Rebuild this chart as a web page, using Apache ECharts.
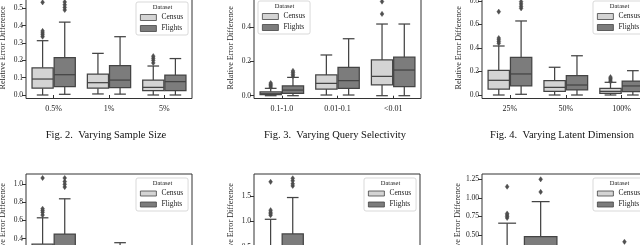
<!DOCTYPE html>
<html><head><meta charset="utf-8">
<script src="https://cdn.jsdelivr.net/npm/echarts@6/dist/echarts.min.js"></script>
<style>html,body{margin:0;padding:0;background:#fff}#c{width:640px;height:245px}</style>
</head><body><div id="c"></div>
<script>
// ---------- DATA (box = [lower whisker, Q1, median, Q3, upper whisker]) ----------
const seriesNames = ['Census', 'Flights'];
const legendTitle = 'Dataset';
const yAxisTitle = 'Relative Error Difference';
const captions = ['Fig. 2.  Varying Sample Size', 'Fig. 3.  Varying Query Selectivity', 'Fig. 4.  Varying Latent Dimension'];

// Fig. 2 (top-left)
const fig2Categories = ['0.5%', '1%', '5%'];
const fig2Census = [[0, 0.039, 0.092, 0.157, 0.313], [0.006, 0.039, 0.071, 0.121, 0.24], [0, 0.025, 0.044, 0.086, 0.167]];
const fig2Flights = [[0.004, 0.048, 0.117, 0.215, 0.42], [0.005, 0.042, 0.086, 0.169, 0.336], [0, 0.025, 0.077, 0.115, 0.21]];
const fig2CensusOutliers = [[0.336, 0.347, 0.358, 0.369, 0.534], [], [0.185, 0.2, 0.212, 0.224]];
const fig2FlightsOutliers = [[0.49, 0.505, 0.52, 0.536], [], []];
const fig2YTicks = [0, 0.1, 0.2, 0.3, 0.4, 0.5];

// Fig. 3 (top-middle)
const fig3Categories = ['0.1-1.0', '0.01-0.1', '<0.01'];
const fig3Census = [[0, 0.006, 0.014, 0.023, 0.043], [0.004, 0.039, 0.072, 0.121, 0.238], [0, 0.063, 0.113, 0.209, 0.419]];
const fig3Flights = [[0, 0.014, 0.033, 0.057, 0.107], [0.004, 0.043, 0.088, 0.166, 0.333], [0, 0.053, 0.15, 0.225, 0.419]];
const fig3CensusOutliers = [[0.05, 0.058, 0.066, 0.074], [], [0.478, 0.55]];
const fig3FlightsOutliers = [[0.115, 0.125, 0.135, 0.145], [], []];
const fig3YTicks = [0, 0.2, 0.4];

// Fig. 4 (top-right)
const fig4Categories = ['25%', '50%', '100%'];
const fig4Census = [[0, 0.051, 0.125, 0.21, 0.417], [0, 0.031, 0.065, 0.122, 0.236], [0, 0.014, 0.031, 0.057, 0.108]];
const fig4Flights = [[0.006, 0.077, 0.179, 0.321, 0.63], [0, 0.043, 0.085, 0.164, 0.334], [0, 0.028, 0.077, 0.119, 0.207]];
const fig4CensusOutliers = [[0.44, 0.455, 0.47, 0.485, 0.709], [], [0.115, 0.128, 0.14, 0.152]];
const fig4FlightsOutliers = [[0.738, 0.755, 0.775, 0.794], [], []];
const fig4YTicks = [0, 0.2, 0.4, 0.6, 0.8];

// Lower row (partly cut off at the bottom of the page)
const fig5Categories = ['a', 'b', 'c'];
const fig5Census = [[0, 0.05, 0.12, 0.34, 0.63], [0, 0.03, 0.07, 0.14, 0.28], [0, 0.02, 0.04, 0.08, 0.16]];
const fig5Flights = [[0.005, 0.08, 0.18, 0.45, 0.84], [0, 0.04, 0.09, 0.17, 0.355], [0, 0.03, 0.07, 0.12, 0.22]];
const fig5CensusOutliers = [[0.66, 0.69, 0.71, 0.73, 1.07], [], []];
const fig5FlightsOutliers = [[0.97, 1.0, 1.03, 1.07], [], []];
const fig5YTicks = [0, 0.2, 0.4, 0.6, 0.8, 1.0];

const fig6Categories = ['a', 'b', 'c'];
const fig6Census = [[0, 0.1, 0.25, 0.5, 1.04], [0, 0.05, 0.12, 0.25, 0.45], [0, 0.03, 0.07, 0.14, 0.3]];
const fig6Flights = [[0, 0.15, 0.35, 0.75, 1.47], [0, 0.06, 0.15, 0.3, 0.5], [0, 0.04, 0.1, 0.2, 0.4]];
const fig6CensusOutliers = [[1.12, 1.15, 1.18, 1.22, 1.78], [], []];
const fig6FlightsOutliers = [[1.7, 1.74, 1.8, 1.85], [], []];
const fig6YTicks = [0, 0.5, 1.0, 1.5];

const fig7Categories = ['a', 'b'];
const fig7Census = [[0, 0.08, 0.18, 0.33, 0.66], [0, 0.03, 0.07, 0.13, 0.25]];
const fig7Flights = [[0, 0.1, 0.22, 0.48, 0.95], [0, 0.04, 0.09, 0.18, 0.35]];
const fig7CensusOutliers = [[0.73, 0.75, 0.77, 0.79, 1.15], []];
const fig7FlightsOutliers = [[1.08, 1.25], [0.41]];
const fig7YTicks = [0, 0.25, 0.5, 0.75, 1.0, 1.25];

// ---------- STYLE / LAYOUT ----------
const SERIF = "'Liberation Serif','DejaVu Serif',serif";
const LINE = '#444444';
const FILLS = ['#d4d4d4', '#7c7c7c'];
const FRAME = '#333333';

const panels = [
  {cats: fig2Categories, boxes: [fig2Census, fig2Flights], outs: [fig2CensusOutliers, fig2FlightsOutliers], ticks: fig2YTicks, dec: 1,
   left: 26, width: 166, top: -3, min: -0.0202, max: 0.5648, legend: [136, 2], showX: true},
  {cats: fig3Categories, boxes: [fig3Census, fig3Flights], outs: [fig3CensusOutliers, fig3FlightsOutliers], ticks: fig3YTicks, dec: 1,
   left: 254, width: 167, top: -3, min: -0.0164, max: 0.577, legend: [258, 1], showX: true},
  {cats: fig4Categories, boxes: [fig4Census, fig4Flights], outs: [fig4CensusOutliers, fig4FlightsOutliers], ticks: fig4YTicks, dec: 1,
   left: 482, width: 167.6, top: -3, min: -0.0298, max: 0.834, legend: [593, 1], showX: true},
  {cats: fig5Categories, boxes: [fig5Census, fig5Flights], outs: [fig5CensusOutliers, fig5FlightsOutliers], ticks: fig5YTicks, dec: 1,
   left: 26, width: 166, top: 174, min: -0.0076, max: 1.114, legend: [136, 178], showX: false},
  {cats: fig6Categories, boxes: [fig6Census, fig6Flights], outs: [fig6CensusOutliers, fig6FlightsOutliers], ticks: fig6YTicks, dec: 1,
   left: 254, width: 166, top: 174, min: -0.071, max: 1.935, legend: [364, 178], showX: false},
  {cats: fig7Categories, boxes: [fig7Census, fig7Flights], outs: [fig7CensusOutliers, fig7FlightsOutliers], ticks: fig7YTicks, dec: 2,
   left: 482, width: 167.6, top: 174, min: -0.043, max: 1.321, legend: [593, 178], showX: false}
];
const GRID_H = 101.5;

function boxRenderer(hue) {
  return function (params, api) {
    const cat = api.value(0);
    const band = api.size([1, 0])[0];
    const cx = api.coord([cat, 0])[0] + (hue - 0.5) * 0.4 * band;
    const w = 0.4 * band - 1;
    const cap = w * 0.55;
    const y = v => api.coord([cat, v])[1];
    const lo = y(api.value(1)), q1 = y(api.value(2)), md = y(api.value(3)), q3 = y(api.value(4)), hi = y(api.value(5));
    const ls = {stroke: LINE, lineWidth: 1.25};
    return {type: 'group', children: [
      {type: 'line', shape: {x1: cx, y1: q3, x2: cx, y2: hi}, style: ls},
      {type: 'line', shape: {x1: cx, y1: q1, x2: cx, y2: lo}, style: ls},
      {type: 'line', shape: {x1: cx - cap / 2, y1: hi, x2: cx + cap / 2, y2: hi}, style: ls},
      {type: 'line', shape: {x1: cx - cap / 2, y1: lo, x2: cx + cap / 2, y2: lo}, style: ls},
      {type: 'rect', shape: {x: cx - w / 2, y: q3, width: w, height: q1 - q3}, style: {fill: FILLS[hue], stroke: LINE, lineWidth: 1.25}},
      {type: 'line', shape: {x1: cx - w / 2, y1: md, x2: cx + w / 2, y2: md}, style: ls}
    ]};
  };
}
function outlierRenderer(hue) {
  return function (params, api) {
    const cat = api.value(0);
    const band = api.size([1, 0])[0];
    const p = api.coord([cat, api.value(1)]);
    const cx = p[0] + (hue - 0.5) * 0.4 * band, cy = p[1];
    return {type: 'polygon', shape: {points: [[cx, cy - 2.6], [cx + 1.9, cy], [cx, cy + 2.6], [cx - 1.9, cy]]},
      style: {fill: '#505050', stroke: '#404040', lineWidth: 0.4}};
  };
}

const option = {backgroundColor: '#fff', animation: false, grid: [], xAxis: [], yAxis: [], series: [], legend: [], graphic: []};

panels.forEach((p, i) => {
  option.grid.push({left: p.left, top: p.top, width: p.width, height: GRID_H, show: true, borderColor: FRAME, borderWidth: 1,
    backgroundColor: 'transparent', containLabel: false, outerBoundsMode: 'none'});
  option.xAxis.push({type: 'category', gridIndex: i, data: p.cats, boundaryGap: true,
    axisLine: {show: false}, splitLine: {show: false},
    axisTick: {show: true, alignWithLabel: true, length: 3, lineStyle: {color: FRAME, width: 1}},
    axisLabel: {show: p.showX, fontSize: 8, fontFamily: SERIF, color: '#222', margin: 6}});
  option.yAxis.push({type: 'value', gridIndex: i, min: p.min, max: p.max,
    name: yAxisTitle, nameLocation: 'middle', nameGap: 19,
    nameTextStyle: {fontSize: 8.2, fontFamily: SERIF, color: '#222'},
    axisLine: {show: false}, splitLine: {show: false},
    axisTick: {show: true, length: 4, customValues: p.ticks, lineStyle: {color: FRAME, width: 1}},
    axisLabel: {customValues: p.ticks, fontSize: 7.5, fontFamily: SERIF, color: '#222', margin: 3,
      formatter: v => Number(v).toFixed(p.dec)}});
  [0, 1].forEach(h => {
    option.series.push({type: 'custom', name: seriesNames[h], xAxisIndex: i, yAxisIndex: i,
      encode: {x: 0, y: [1, 2, 3, 4, 5]}, itemStyle: {color: FILLS[h]},
      data: p.boxes[h].map((b, c) => [c].concat(b)), renderItem: boxRenderer(h), clip: false});
    const od = [];
    p.outs[h].forEach((arr, c) => arr.forEach(v => od.push([c, v])));
    option.series.push({type: 'custom', name: seriesNames[h] + ' outliers', xAxisIndex: i, yAxisIndex: i,
      encode: {x: 0, y: 1}, data: od, renderItem: outlierRenderer(h), clip: false, z: 3});
  });
  option.legend.push({left: p.legend[0], top: p.legend[1], orient: 'vertical', padding: [11, 5, 2, 4],
    itemWidth: 16, itemHeight: i < 3 ? 6 : 5, itemGap: 2, selectedMode: false,
    backgroundColor: '#fff', borderColor: '#cfcfcf', borderWidth: 0.8, borderRadius: 2,
    textStyle: {fontSize: 7.5, fontFamily: SERIF, color: '#222', lineHeight: 9},
    data: seriesNames.map((n, h) => ({name: n, icon: 'rect', itemStyle: {color: FILLS[h], borderColor: LINE, borderWidth: 0.8}}))});
  option.graphic.push({type: 'text', z: 100, x: p.legend[0] + 26.5, y: p.legend[1] + 5.5,
    style: {text: legendTitle, font: '6.5px ' + SERIF, fill: '#222', align: 'center', verticalAlign: 'middle'}});
});
const captionX = [106, 335, 562];
captions.forEach((t, i) => option.graphic.push({type: 'text', z: 100, x: captionX[i], y: 135,
  style: {text: t, font: '10.5px ' + SERIF, fill: '#111', align: 'center', verticalAlign: 'middle'}}));

echarts.init(document.getElementById('c'), null, {renderer: 'canvas'}).setOption(option);
</script></body></html>
